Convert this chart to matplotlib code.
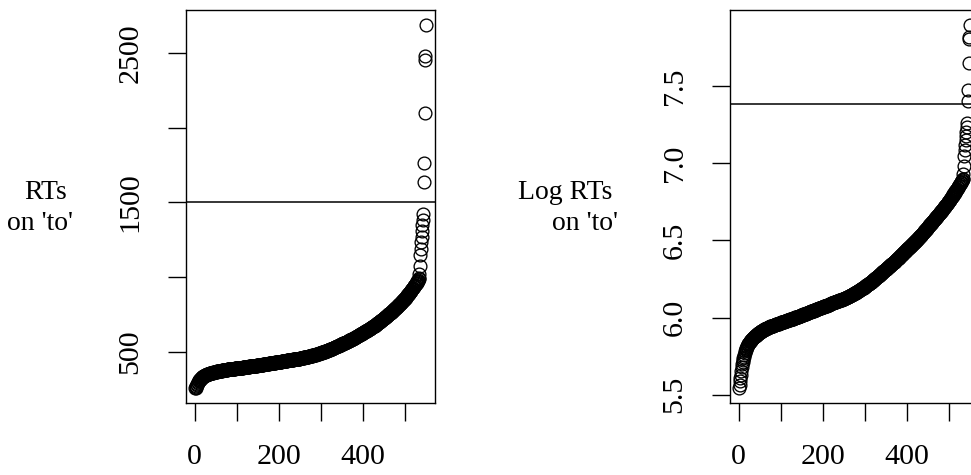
import numpy as np
import matplotlib
matplotlib.use("Agg")
import matplotlib.pyplot as plt

# Reaction times (ms) on the word 'to', sorted ascending
rt_ms = [
    # 1-10
    255, 261, 267, 273, 279, 286, 293, 298, 302, 306,
    # 11-31
    310, 313, 317, 320, 324, 327, 329, 331, 334, 336,
    337, 339, 340, 342, 343, 345, 346, 347, 349, 350, 351,
    # 32-55
    352, 353, 354, 355, 356, 356, 357, 358, 359, 360,
    361, 361, 362, 363, 364, 364, 365, 366, 367, 367,
    368, 369, 370, 371,
    # 56-100
    371, 372, 372, 373, 373, 374, 374, 375, 375, 376,
    376, 377, 377, 378, 378, 379, 379, 380, 380, 381,
    381, 381, 382, 382, 383, 383, 383, 384, 384, 385,
    385, 385, 386, 386, 387, 387, 387, 388, 388, 388,
    389, 389, 389, 390, 390,
    # 101-150
    391, 391, 391, 392, 392, 392, 393, 393, 394, 394,
    394, 395, 395, 395, 396, 396, 397, 397, 397, 398,
    398, 399, 399, 399, 400, 400, 400, 401, 401, 402,
    402, 402, 403, 403, 404, 404, 404, 405, 405, 406,
    406, 406, 407, 407, 408, 408, 408, 409, 409, 410,
    # 151-200
    410, 411, 411, 412, 412, 412, 413, 413, 414, 414,
    415, 415, 416, 416, 416, 417, 417, 418, 418, 419,
    419, 420, 420, 421, 421, 421, 422, 422, 423, 423,
    424, 424, 425, 425, 426, 426, 426, 427, 427, 428,
    428, 429, 429, 430, 430, 430, 431, 431, 432, 432,
    # 201-250
    433, 433, 434, 434, 435, 435, 436, 436, 436, 437,
    437, 438, 438, 439, 439, 440, 440, 441, 441, 442,
    442, 443, 443, 444, 444, 445, 445, 446, 446, 447,
    447, 447, 448, 448, 449, 449, 450, 450, 451, 451,
    452, 452, 453, 453, 453, 454, 454, 455, 455, 456,
    # 251-300
    456, 457, 457, 458, 459, 459, 460, 460, 461, 462,
    462, 463, 464, 464, 465, 466, 466, 467, 468, 468,
    469, 470, 470, 471, 472, 473, 473, 474, 475, 476,
    476, 477, 478, 479, 480, 480, 481, 482, 483, 484,
    485, 485, 486, 487, 488, 489, 490, 491, 492, 493,
    # 301-350
    494, 495, 496, 497, 498, 499, 500, 501, 502, 503,
    504, 505, 506, 507, 508, 509, 510, 512, 513, 514,
    515, 516, 517, 518, 520, 521, 522, 523, 524, 526,
    527, 528, 529, 531, 532, 533, 534, 536, 537, 538,
    540, 541, 542, 544, 545, 546, 548, 549, 550, 552,
    # 351-400
    553, 554, 556, 557, 558, 560, 561, 562, 564, 565,
    566, 568, 569, 570, 572, 573, 575, 576, 577, 579,
    580, 582, 583, 585, 586, 588, 589, 591, 592, 594,
    595, 597, 598, 600, 602, 603, 605, 606, 608, 610,
    611, 613, 615, 616, 618, 620, 621, 623, 625, 627,
    # 401-450
    628, 630, 631, 633, 635, 636, 638, 640, 641, 643,
    645, 646, 648, 650, 652, 653, 655, 657, 659, 661,
    663, 664, 666, 668, 670, 672, 674, 676, 678, 680,
    682, 684, 686, 688, 690, 692, 694, 697, 699, 701,
    703, 705, 707, 710, 712, 714, 717, 719, 721, 724,
    # 451-500
    726, 728, 731, 733, 735, 738, 740, 742, 745, 747,
    750, 752, 754, 757, 759, 762, 764, 767, 769, 772,
    774, 777, 779, 782, 785, 787, 790, 793, 795, 798,
    801, 803, 806, 809, 812, 815, 817, 820, 823, 826,
    829, 832, 835, 838, 841, 844, 847, 850, 853, 856,
    # 501-534
    859, 863, 866, 870, 873, 877, 880, 884, 888, 891,
    895, 899, 903, 906, 910, 914, 918, 922, 926, 930,
    934, 938, 942, 946, 950, 955, 959, 963, 968, 972,
    977, 982, 987, 992,
    # 535-550: slow tail
    1020, 1075, 1145, 1190, 1235, 1270, 1305, 1345, 1385, 1425,
    1637, 1764, 2095, 2449, 2482, 2689,
]

# Cut-off lines drawn on each panel
rt_cutoff = 1500
log_rt_cutoff = 7.38

rt_yticks = [500, 1000, 1500, 2000, 2500]
rt_yticklabels = ["500", "", "1500", "", "2500"]
log_yticks = [5.5, 6.0, 6.5, 7.0, 7.5]
log_yticklabels = ["5.5", "6.0", "6.5", "7.0", "7.5"]
xticks = [0, 100, 200, 300, 400, 500]
xticklabels = ["0", "", "200", "", "400", ""]

rt = np.array(rt_ms, dtype=float)
idx = np.arange(1, len(rt) + 1)

plt.rcParams["font.family"] = ["Liberation Serif", "DejaVu Serif"]
FS = 21.6
LABEL_FS = 20

W, H = 971, 475
fig = plt.figure(figsize=(W / 100, H / 100), dpi=100)
fig.patch.set_facecolor("white")

def panel(left_px, y, cutoff, yticks, yticklabels, lines, label_x_px):
    ax = fig.add_axes([left_px / W, (H - 403) / H, 249 / W, 393 / H])
    ax.plot(idx, y, linestyle="none", marker="o", markersize=9.2,
            markerfacecolor="none", markeredgecolor="black",
            markeredgewidth=0.95, clip_on=True)
    ax.axhline(cutoff, color="black", lw=1.1)
    ax.margins(x=0.04, y=0.04)
    ax.set_xticks(xticks)
    ax.set_xticklabels(xticklabels)
    ax.set_yticks(yticks)
    ax.set_yticklabels(yticklabels, rotation=90, va="center")
    ax.tick_params(axis="both", direction="out", length=13, width=1.0,
                   labelsize=FS, color="black")
    ax.tick_params(axis="x", pad=16.5)
    ax.tick_params(axis="y", pad=17.5)
    for s in ax.spines.values():
        s.set_linewidth(1.0)
    # two-line axis title, set horizontally to the left of the panel
    first, second = lines
    fig.text((label_x_px - 6) / W, 1 - 199.5 / H, first, ha="right",
             va="baseline", fontsize=LABEL_FS)
    fig.text(label_x_px / W, 1 - 230 / H, second, ha="right",
             va="baseline", fontsize=LABEL_FS)
    return ax

panel(186, rt, rt_cutoff, rt_yticks, rt_yticklabels, ("RTs", "on 'to'"), 73)
panel(730, np.log(rt), log_rt_cutoff, log_yticks, log_yticklabels,
      ("Log RTs", "on 'to'"), 618)

fig.savefig("out.png", dpi=100, facecolor="white")
